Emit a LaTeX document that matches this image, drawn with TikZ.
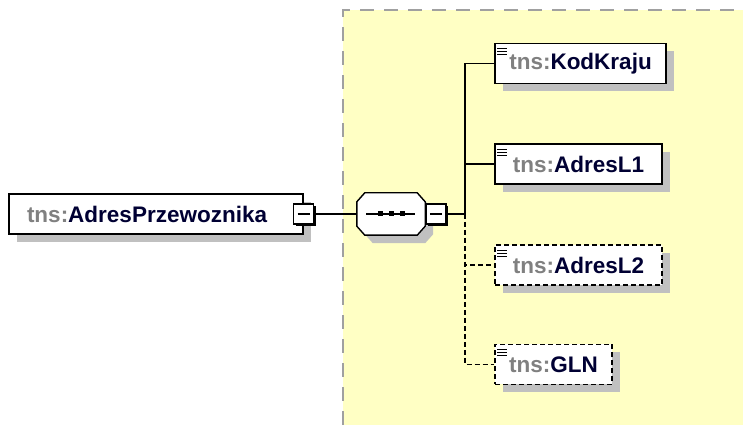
\documentclass[tikz,border=0pt]{standalone}
\usepackage{fontspec}
\setmainfont{Liberation Sans}
\usetikzlibrary{positioning, shadows, calc}
\definecolor{AreaYellow}{HTML}{FFFFC4}
\definecolor{AreaEdge}{HTML}{A0A0A0}
\definecolor{ShadowGrey}{HTML}{C0C0C0}
\definecolor{PrefixGrey}{HTML}{808080}
\definecolor{NameBlue}{HTML}{000033}
\newcommand{\tns}[1]{{\color{PrefixGrey}tns:}{\color{NameBlue}#1}}
\tikzset{
  greyshadow/.style={drop shadow={shadow xshift=8pt, shadow yshift=-8pt, fill=ShadowGrey, opacity=1}},
  elem/.style={draw=black, line width=1.4pt, fill=white, minimum height=40pt,
    inner xsep=0pt, font=\fontsize{22.5}{26}\selectfont\bfseries, greyshadow},
  optelem/.style={elem, dash pattern=on 5pt off 3pt},
  minusbox/.style={draw=black, line width=1.3pt, fill=white, minimum size=20pt, inner sep=0pt,
    drop shadow={shadow xshift=2pt, shadow yshift=-2pt, fill=black, opacity=1},
    path picture={\draw[line width=1.2pt] ([xshift=-6pt]path picture bounding box.center) -- ++(12,0);}},
  seqbox/.style={minimum width=68pt, minimum height=42pt, inner sep=0pt},
  link/.style={line width=1.6pt, draw=black},
  optlink/.style={link, dash pattern=on 5pt off 3pt},
  iconline/.style={line width=1.2pt, draw=black},
}
\begin{document}
\begin{tikzpicture}[x=1pt, y=1pt]
    \useasboundingbox (0,0) rectangle (743,425);
    % model group area
    \fill[AreaYellow] (343,0) rectangle (743,415);
    \draw[AreaEdge, line width=2pt, dash pattern=on 14pt off 10pt] (343,0) |- (743,415);

    \node[elem, minimum width=294pt, text width=258pt, align=left, inner xsep=18pt] (root) at (156,211) {\tns{AdresPrzewoznika}};
    \node[minusbox] (rootminus) at (root.east) {};

    % sequence symbol
    \node[seqbox] (seq) at (391,211) {};
    \draw[link, line width=1.4pt, fill=white, greyshadow]
      ($(seq.north west)+(8,0)$) -- ($(seq.north east)+(-8,0)$) -- ($(seq.north east)+(0,-9)$)
      -- ($(seq.south east)+(0,9)$) -- ($(seq.south east)+(-8,0)$) -- ($(seq.south west)+(8,0)$)
      -- ($(seq.south west)+(0,9)$) -- ($(seq.north west)+(0,-9)$) -- cycle;
    \draw[link] ([xshift=-25pt]seq.center) -- ([xshift=24pt]seq.center);
    \foreach \dx in {-11,0,11}
      \fill ([shift={(\dx-2.5,-2.5)}]seq.center) rectangle ++(5,5);
    \node[minusbox, right=0pt of seq] (seqminus) {};
    \coordinate (bus) at (465,211);

    \node[elem, minimum width=171pt] (kod) at (580.5,361.5) {\tns{KodKraju}};
    \node[elem, minimum width=167pt] (l1) at (578.5,261) {\tns{AdresL1}};
    \node[optelem, minimum width=167pt] (l2) at (578.5,160) {\tns{AdresL2}};
    \node[optelem, minimum width=117pt] (gln) at (553.5,60.5) {\tns{GLN}};

    % element icons
    \foreach \n in {kod,l1,l2,gln}
      \foreach \dy in {6,9,12}
        \draw[iconline] ([xshift=3pt,yshift=-\dy pt]\n.north west) -- ++(10,0);

    \draw[link] (rootminus.east) -- (seq.west);
    \draw[link] (seqminus.east) -- (bus);
    \draw[link] (bus) |- (kod.west);
    \draw[link] (bus) |- (l1.west);
    \draw[optlink] (bus) |- (l2.west);
    \draw[optlink] (bus) |- (gln.west);
\end{tikzpicture}
\end{document}
